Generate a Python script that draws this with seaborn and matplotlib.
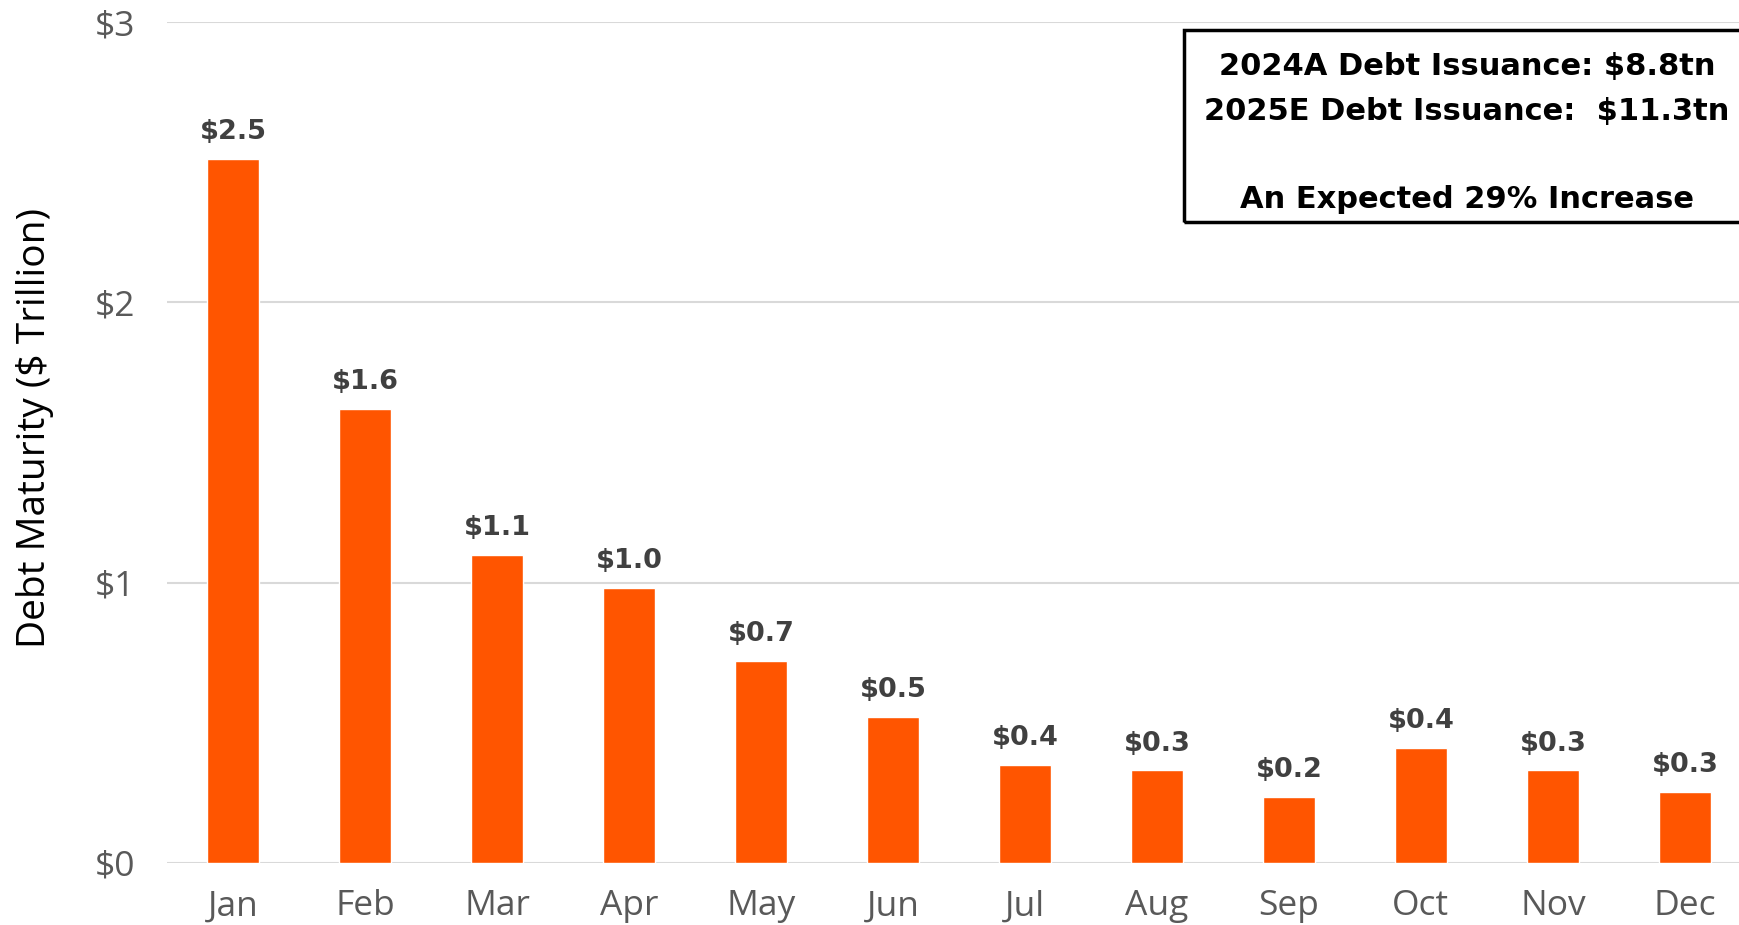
import pandas as pd
import seaborn as sns
import matplotlib.pyplot as plt
from matplotlib.patches import Rectangle

# monthly debt maturity, $ trillion
months = ['Jan', 'Feb', 'Mar', 'Apr', 'May', 'Jun', 'Jul', 'Aug', 'Sep', 'Oct', 'Nov', 'Dec']
maturity = [2.51, 1.62, 1.10, 0.98, 0.72, 0.52, 0.35, 0.33, 0.235, 0.41, 0.33, 0.255]
bar_labels = ['$2.5', '$1.6', '$1.1', '$1.0', '$0.7', '$0.5', '$0.4', '$0.3', '$0.2', '$0.4', '$0.3', '$0.3']
y_ticks = [0, 1, 2, 3]
y_tick_labels = ['$0', '$1', '$2', '$3']
box_lines = ['2024A Debt Issuance: $8.8tn',
             '2025E Debt Issuance:  $11.3tn',
             'An Expected 29% Increase']

df = pd.DataFrame({'month': months, 'maturity': maturity})

sns.set_style('white')
plt.rcParams['font.family'] = ['Open Sans', 'DejaVu Sans']

W, H = 1739, 925
fig = plt.figure(figsize=(W / 100, H / 100), dpi=100)
ax = fig.add_axes([167 / W, 1 - 863 / H, 1 - 167 / W, (863 - 22) / H])

sns.barplot(data=df, x='month', y='maturity', color='#FF5500', width=0.39,
            saturation=1, ax=ax, zorder=3)

for i, (v, lab) in enumerate(zip(maturity, bar_labels)):
    ax.annotate(lab.replace('$', r'\$'), (i, v), xytext=(0, 10), textcoords='offset points',
                ha='center', va='bottom', fontsize=19.5, fontweight='bold', color='#404040',
                family='DejaVu Sans')

ax.set_xlim(-0.5, 11.41)
ax.set_ylim(0, 3)
ax.set_yticks(y_ticks)
ax.set_yticklabels([t.replace('$', r'\$') for t in y_tick_labels])
ax.grid(axis='y', color='#d9d9d9', linewidth=1.5, zorder=0)
ax.grid(axis='x', visible=False)
for s in ax.spines.values():
    s.set_visible(False)
ax.tick_params(axis='y', length=0, pad=23, labelsize=25.5, labelcolor='#595959')
ax.tick_params(axis='x', length=0, pad=19, labelsize=25.5, labelcolor='#595959')

ax.set_xlabel('')
ax.set_ylabel(r'Debt Maturity (\$ Trillion)', fontsize=28, color='black')
ax.yaxis.set_label_coords(-0.072, 0.517)

# annotation box (runs off the right edge)
fig.patches.append(Rectangle((1184 / W, 1 - 222 / H), (1780 - 1184) / W, (222 - 30) / H,
                             transform=fig.transFigure, fill=False, edgecolor='black',
                             linewidth=2.5, zorder=5))
for txt, base in zip(box_lines, [75, 120, 208]):
    fig.text(1467 / W, 1 - base / H, txt.replace('$', r'\$'), ha='center', va='baseline',
             fontsize=22, fontweight='bold', color='black', family='DejaVu Sans')

plt.savefig('out.png', dpi=100)
